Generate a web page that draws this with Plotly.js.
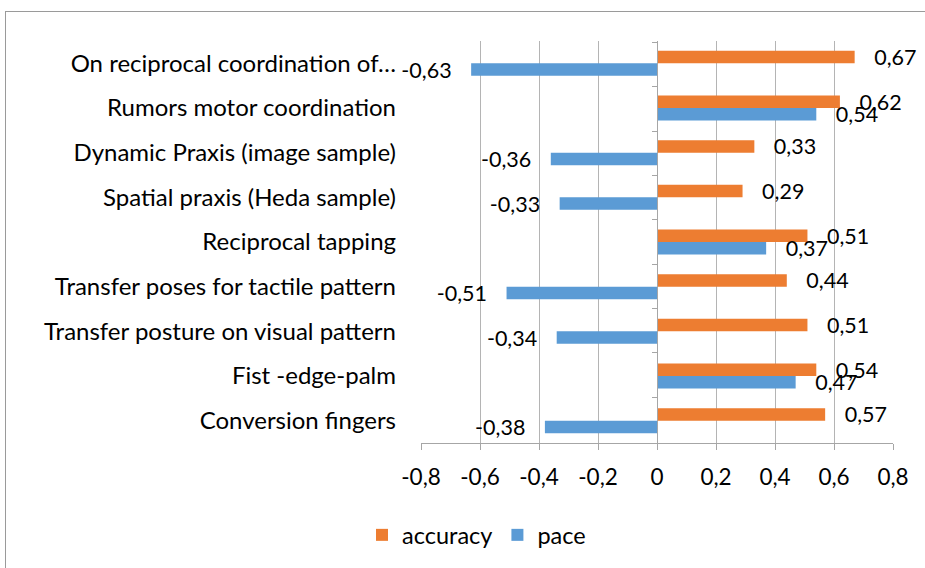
<!DOCTYPE html>
<html>
<head>
<meta charset="utf-8">
<script src="https://cdn.plot.ly/plotly-3.0.1.min.js"></script>
<style>
  html, body { margin: 0; padding: 0; background: #ffffff; }
  #wrap { position: relative; width: 925px; height: 568px; overflow: hidden; background: #ffffff; }
  #frame { position: absolute; left: 5px; top: 11px; width: 1000px; height: 1000px; border: 1px solid #9a9a9a; box-sizing: border-box; }
  #chart { position: absolute; left: 0; top: 0; width: 925px; height: 568px; }
</style>
</head>
<body>
<div id="wrap">
  <div id="frame"></div>
  <div id="chart"></div>
</div>
<script>
// Categories listed top to bottom as in the reference
const categories = [
  "On reciprocal coordination of\u2026",
  "Rumors motor coordination",
  "Dynamic Praxis (image sample)",
  "Spatial praxis (Heda sample)",
  "Reciprocal tapping",
  "Transfer poses for tactile pattern",
  "Transfer posture on visual pattern",
  "Fist -edge-palm",
  "Conversion fingers"
];
const accuracy = [0.67, 0.62, 0.33, 0.29, 0.51, 0.44, 0.51, 0.54, 0.57];
const pace     = [-0.63, 0.54, -0.36, -0.33, 0.37, -0.51, -0.34, 0.47, -0.38];
const xTickVals  = [-0.8, -0.6, -0.4, -0.2, 0, 0.2, 0.4, 0.6, 0.8];
const xTickText  = ["-0,8", "-0,6", "-0,4", "-0,2", "0", "0,2", "0,4", "0,6", "0,8"];

const PAD = "\u00a0\u00a0\u00a0";
function fmt(v) {
  const s = v.toFixed(2).replace(".", ",");
  return v < 0 ? s + PAD : PAD + s;
}

const FONT = "Lato, Carlito, 'Liberation Sans', sans-serif";
const labelFont = { family: FONT, size: 21.5, color: "#000000" };

const traces = [
  {
    type: "bar", orientation: "h", name: "accuracy",
    y: categories, x: accuracy,
    marker: { color: "#ED7D31", line: { width: 0 } },
    text: accuracy.map(fmt), textposition: "outside", constraintext: "none",
    cliponaxis: false, textfont: labelFont, hoverinfo: "x+y"
  },
  {
    type: "bar", orientation: "h", name: "pace",
    y: categories, x: pace,
    marker: { color: "#5B9BD5", line: { width: 0 } },
    text: pace.map(fmt), textposition: "outside", constraintext: "none",
    cliponaxis: false, textfont: labelFont, hoverinfo: "x+y"
  },
  {
    // invisible helper that carries the category axis drawn on the zero line
    type: "scatter", mode: "markers", yaxis: "y2",
    y: categories, x: categories.map(() => 0),
    marker: { opacity: 0 }, showlegend: false, hoverinfo: "skip"
  }
];

const layout = {
  width: 925, height: 568,
  margin: { l: 421, r: 32, t: 41, b: 124, pad: 0 },
  paper_bgcolor: "rgba(0,0,0,0)",
  plot_bgcolor: "rgba(0,0,0,0)",
  barmode: "group",
  bargap: 0.44,
  bargroupgap: 0,
  font: { family: FONT, size: 20, color: "#000000" },
  xaxis: {
    range: [-0.8, 0.8],
    tickmode: "array", tickvals: xTickVals, ticktext: xTickText,
    showgrid: true, gridcolor: "#b4b4b4", gridwidth: 1,
    zeroline: false,
    showline: true, linecolor: "#a6a6a6", linewidth: 1,
    ticks: "outside", ticklen: 6, tickcolor: "#a6a6a6",
    tickfont: { family: FONT, size: 22.5, color: "#000000" },
    ticklabelstandoff: 8,
    fixedrange: true
  },
  yaxis: {
    type: "category", categoryorder: "array", categoryarray: categories,
    autorange: "reversed",
    showgrid: false, zeroline: false, showline: false, ticks: "",
    tickfont: { family: FONT, size: 24, color: "#000000" },
    ticklabelstandoff: 24,
    fixedrange: true
  },
  yaxis2: {
    type: "category", categoryorder: "array", categoryarray: categories,
    autorange: "reversed",
    overlaying: "y", anchor: "free", position: 0.5, side: "left",
    showgrid: false, zeroline: false,
    showline: true, linecolor: "#a6a6a6", linewidth: 1,
    ticks: "outside", ticklen: 5, tickcolor: "#a6a6a6", tickson: "boundaries",
    showticklabels: false,
    fixedrange: true
  },
  showlegend: true,
  legend: {
    orientation: "h",
    x: -0.125, xanchor: "left",
    y: -0.226, yanchor: "middle",
    font: { family: FONT, size: 23.5, color: "#000000" },
    bgcolor: "rgba(0,0,0,0)",
    traceorder: "normal"
  }
};

Plotly.newPlot("chart", traces, layout, { displayModeBar: false, staticPlot: true });
</script>
</body>
</html>
